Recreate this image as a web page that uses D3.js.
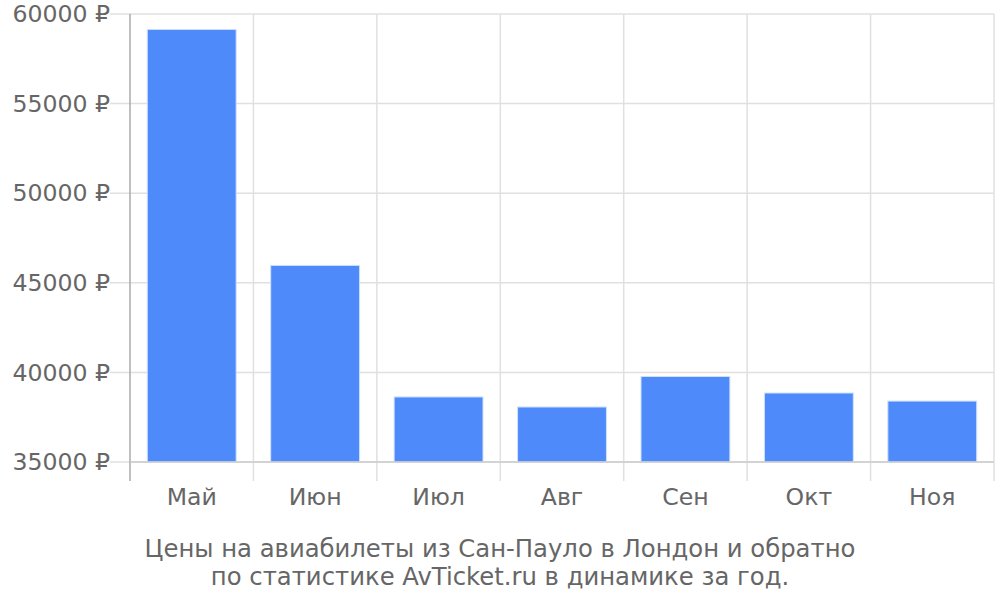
<!DOCTYPE html>
<html><head><meta charset="utf-8">
<script src="https://cdn.jsdelivr.net/npm/d3@7"></script>
<style>body{margin:0;background:#fff}svg text{font-family:"DejaVu Sans",sans-serif;fill:#666}</style>
</head><body>
<svg id="c" width="1000" height="600"></svg>
<script>
const categories = ["Май","Июн","Июл","Авг","Сен","Окт","Ноя"];
const prices = [59140, 45970, 38630, 38070, 39770, 38850, 38400];
const yTicks = [35000, 40000, 45000, 50000, 55000, 60000];
const captionLines = ["Цены на авиабилеты из Сан-Пауло в Лондон и обратно","по статистике AvTicket.ru в динамике за год."];

const svg = d3.select("#c");
const L = 130, R = 994, T = 14, B = 462;
const x = d3.scaleBand().domain(categories).range([L, R]).paddingInner(0.28).paddingOuter(0.14);
const xb = d3.scaleBand().domain(categories).range([L, R]);
const y = d3.scaleLinear().domain([35000, 60000]).range([B, T]);

// horizontal grid
svg.append("g").selectAll("line").data(yTicks).join("line")
  .attr("x1", 110).attr("x2", R).attr("y1", d => y(d)).attr("y2", d => y(d))
  .attr("stroke", "#e0e0e0").attr("stroke-width", 1.5);
// vertical grid
const vx = categories.map(c => xb(c)).concat([R]);
svg.append("g").selectAll("line").data(vx.slice(1)).join("line")
  .attr("x1", d => d).attr("x2", d => d).attr("y1", T).attr("y2", 481)
  .attr("stroke", "#e0e0e0").attr("stroke-width", 1.5);

// bars
svg.append("g").selectAll("rect").data(prices).join("rect")
  .attr("x", (d, i) => x(categories[i])).attr("width", x.bandwidth())
  .attr("y", d => y(d)).attr("height", d => B - y(d))
  .attr("fill", "#4e8af9").attr("stroke", "#cfe0ff").attr("stroke-width", 1);

// axes lines
svg.append("line").attr("x1", L).attr("x2", L).attr("y1", T).attr("y2", 481).attr("stroke", "#aaa").attr("stroke-width", 1.5);
svg.append("line").attr("x1", L).attr("x2", R).attr("y1", B).attr("y2", B).attr("stroke", "#ccc").attr("stroke-width", 1.5);

// y labels
svg.append("g").selectAll("text").data(yTicks).join("text")
  .attr("x", 110).attr("y", d => y(d)).attr("dy", "0.35em").attr("text-anchor", "end")
  .attr("font-size", 23.6).text(d => d + " ₽");
// x labels
svg.append("g").selectAll("text").data(categories).join("text")
  .attr("x", d => xb(d) + xb.bandwidth() / 2).attr("y", 497).attr("dy", "0.35em")
  .attr("text-anchor", "middle").attr("font-size", 23.6).text(d => d);
// caption
svg.append("g").selectAll("text").data(captionLines).join("text")
  .attr("x", 500).attr("y", (d, i) => 548 + i * 28).attr("dy", "0.35em")
  .attr("text-anchor", "middle").attr("font-size", 24.3).text(d => d);
</script>
</body></html>
